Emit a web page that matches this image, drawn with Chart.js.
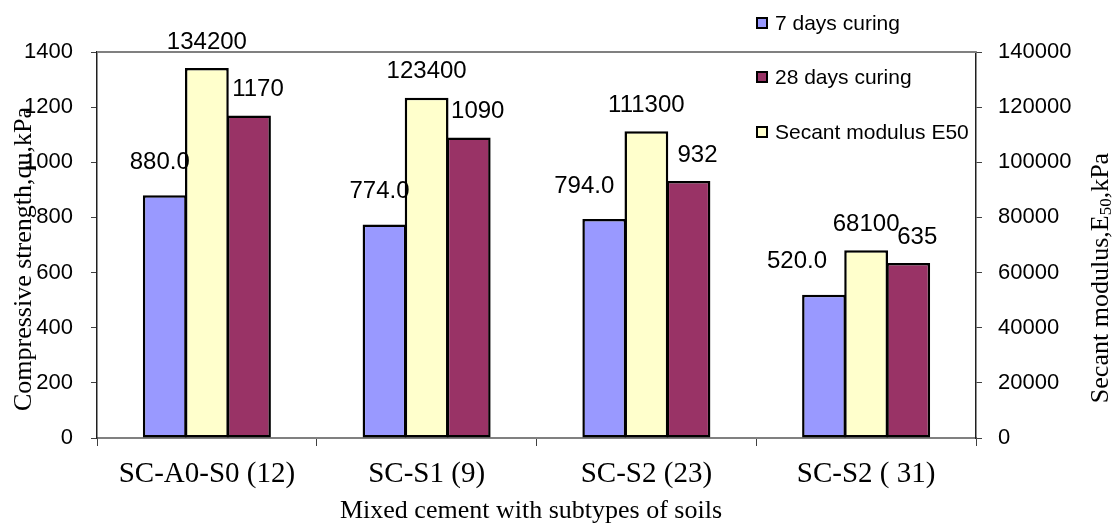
<!DOCTYPE html>
<html>
<head>
<meta charset="utf-8">
<script src="https://cdn.jsdelivr.net/npm/chart.js@4.4.0/dist/chart.umd.min.js"></script>
<style>
  html, body { margin: 0; padding: 0; background: #ffffff; }
  #wrap { width: 1114px; height: 524px; position: relative; }
</style>
</head>
<body>
<div id="wrap"><canvas id="c" width="1114" height="524"></canvas></div>
<script>
// Soil-cement mixes and their measured properties
const categories = ['SC-A0-S0 (12)', 'SC-S1 (9)', 'SC-S2 (23)', 'SC-S2 ( 31)'];
const curing7Days = [880, 774, 794, 520];          // qu, kPa
const curing28Days = [1170, 1090, 932, 635];       // qu, kPa
const secantModulus = [134200, 123400, 111300, 68100]; // E50, kPa

const strengthRange = [0, 1400, 200];
const modulusRange = [0, 140000, 20000];

const SANS = '"Liberation Sans", Arial, sans-serif';
const SERIF = '"Liberation Serif", "Times New Roman", serif';

const COLORS = { d7: '#9999FF', e50: '#FFFFCC', d28: '#993366' };

// Value labels above each bar
const valueLabels = {
  id: 'valueLabels',
  afterDatasetsDraw(chart, args, opts) {
    const ctx = chart.ctx;
    ctx.save();
    ctx.font = '24px ' + SANS;
    ctx.fillStyle = '#000';
    ctx.textAlign = 'center';
    ctx.textBaseline = 'middle';
    chart.data.datasets.forEach((ds, di) => {
      const meta = chart.getDatasetMeta(di);
      const style = opts.styles[di];
      meta.data.forEach((bar, i) => {
        const v = ds.data[i];
        const txt = style.decimals ? v.toFixed(style.decimals) : String(v);
        const dx = Array.isArray(style.dx) ? style.dx[i] : style.dx;
        ctx.fillText(txt, bar.x + dx, bar.y + style.dy);
      });
    });
    ctx.restore();
  }
};

// Frame line, axis titles and legend
const decorations = {
  id: 'decorations',
  afterDraw(chart) {
    const ctx = chart.ctx;
    const a = chart.chartArea;
    ctx.save();
    // top edge of the plot area
    ctx.strokeStyle = '#808080';
    ctx.lineWidth = 2;
    ctx.beginPath();
    ctx.moveTo(a.left, a.top);
    ctx.lineTo(a.right, a.top);
    ctx.stroke();

    ctx.fillStyle = '#000';
    ctx.textBaseline = 'middle';

    // x axis title
    ctx.font = '26px ' + SERIF;
    ctx.textAlign = 'center';
    ctx.fillText('Mixed cement with subtypes of soils', 531, 511);

    // left axis title
    ctx.save();
    ctx.translate(24, 259);
    ctx.rotate(-Math.PI / 2);
    ctx.fillText('Compressive strength,qu,kPa', 0, 0);
    ctx.restore();

    // right axis title with subscript
    ctx.save();
    ctx.translate(1101, 278);
    ctx.rotate(-Math.PI / 2);
    const big = '26px ' + SERIF, small = '17px ' + SERIF;
    const p1 = 'Secant modulus,E', p2 = '50', p3 = ',kPa';
    ctx.font = big; const w1 = ctx.measureText(p1).width; const w3 = ctx.measureText(p3).width;
    ctx.font = small; const w2 = ctx.measureText(p2).width;
    let x = -(w1 + w2 + w3) / 2;
    ctx.textAlign = 'left';
    ctx.font = big; ctx.fillText(p1, x, 0); x += w1;
    ctx.font = small; ctx.fillText(p2, x, 6); x += w2;
    ctx.font = big; ctx.fillText(p3, x, 0);
    ctx.restore();

    // legend
    const items = [
      ['7 days curing', COLORS.d7, 23],
      ['28 days curing', COLORS.d28, 77],
      ['Secant modulus E50', COLORS.e50, 132]
    ];
    ctx.font = '21px ' + SANS;
    ctx.textAlign = 'left';
    items.forEach(([label, color, y]) => {
      ctx.fillStyle = color;
      ctx.fillRect(757, y - 5, 10, 10);
      ctx.strokeStyle = '#000';
      ctx.lineWidth = 2;
      ctx.strokeRect(757, y - 5, 10, 10);
      ctx.fillStyle = '#000';
      ctx.fillText(label, 775, y + 1);
    });
    ctx.restore();
  }
};

const barStyle = { borderColor: '#000', borderWidth: 2.5, borderSkipped: false };

new Chart(document.getElementById('c'), {
  type: 'bar',
  data: {
    labels: categories,
    datasets: [
      Object.assign({ label: '7 days curing', data: curing7Days, backgroundColor: COLORS.d7, yAxisID: 'y' }, barStyle),
      Object.assign({ label: 'Secant modulus E50', data: secantModulus, backgroundColor: COLORS.e50, yAxisID: 'y1' }, barStyle),
      Object.assign({ label: '28 days curing', data: curing28Days, backgroundColor: COLORS.d28, yAxisID: 'y' }, barStyle)
    ]
  },
  options: {
    responsive: false,
    animation: false,
    layout: { padding: { top: 52, left: 0, right: 0, bottom: 0 } },
    datasets: { bar: { categoryPercentage: 0.575, barPercentage: 1.04 } },
    plugins: {
      legend: { display: false },
      tooltip: { enabled: false },
      valueLabels: {
        styles: [
          { dx: [-5, -5, -20, -27], dy: -33, decimals: 1 },
          { dx: 0, dy: -26, decimals: 0 },
          { dx: 9, dy: -26, decimals: 0 }
        ]
      }
    },
    scales: {
      x: {
        grid: { offset: true, drawOnChartArea: false, tickLength: 8, color: '#404040', lineWidth: 1 },
        border: { color: '#808080', width: 2 },
        ticks: { font: { family: SERIF, size: 29 }, color: '#000', padding: 11, maxRotation: 0, autoSkip: false },
        afterFit(s) { s.height = 86; }
      },
      y: {
        position: 'left',
        min: strengthRange[0], max: strengthRange[1],
        ticks: { stepSize: strengthRange[2], font: { family: SANS, size: 22 }, color: '#000', padding: 18, callback: v => String(v) },
        grid: { drawOnChartArea: false, tickLength: 6, color: '#404040' },
        border: { color: '#202020', width: 1.5 },
        afterFit(s) { s.width = 97; }
      },
      y1: {
        position: 'right',
        min: modulusRange[0], max: modulusRange[1],
        ticks: { stepSize: modulusRange[2], font: { family: SANS, size: 22 }, color: '#000', padding: 16, callback: v => String(v) },
        grid: { drawOnChartArea: false, tickLength: 6, color: '#404040' },
        border: { color: '#202020', width: 1.5 },
        afterFit(s) { s.width = 138; }
      }
    }
  },
  plugins: [valueLabels, decorations]
});
</script>
</body>
</html>
